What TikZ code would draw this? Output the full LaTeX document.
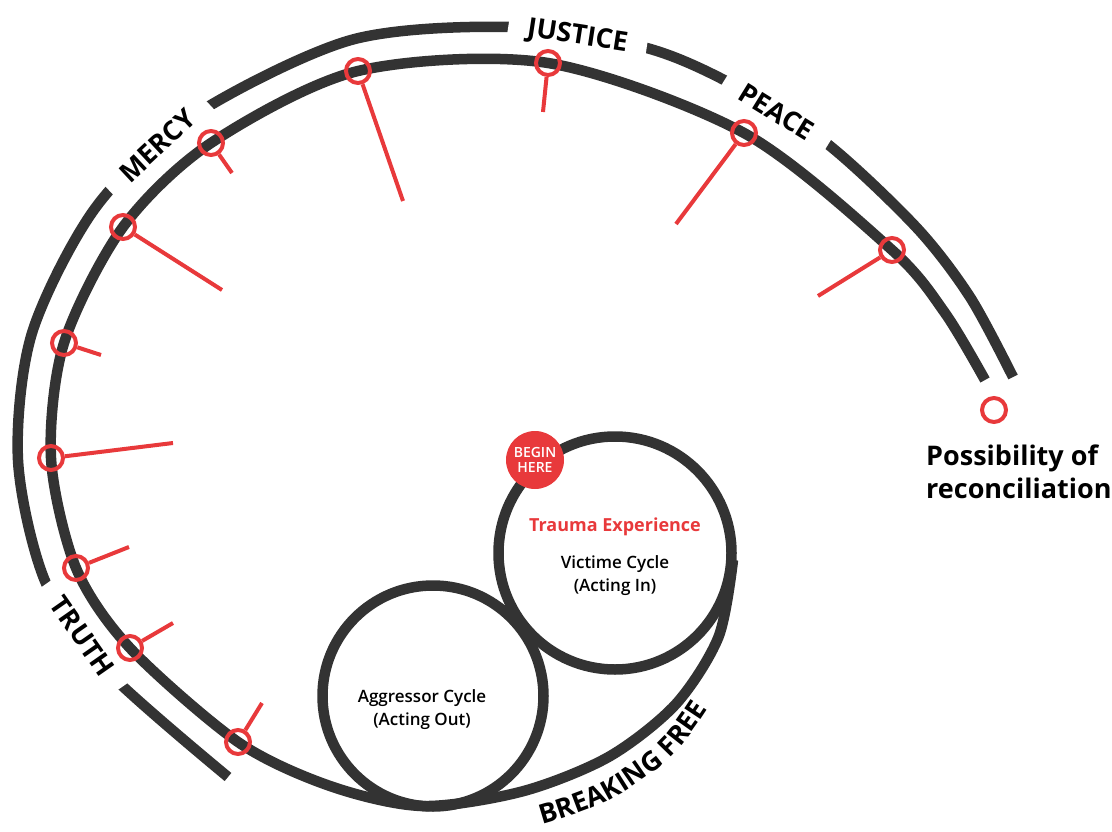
\documentclass[tikz,border=0pt]{standalone}
\usepackage{fontspec}
\setmainfont{Open Sans}
\newfontfamily\semifont{Open Sans Semibold}
\usepackage{xcolor}
\usepackage{tikz}
\usetikzlibrary{decorations.text}
\definecolor{darkline}{HTML}{333333}
\definecolor{ringred}{HTML}{E8393B}
\newcommand\labelfont{\fontsize{27}{27}\selectfont\bfseries}
\newcommand\cyclefont{\semifont\fontsize{17}{23}\selectfont}
\newcommand\traumafont{\fontsize{18}{20}\selectfont\bfseries}
\newcommand\beginfont{\semifont\fontsize{14}{15}\selectfont}
\newcommand\goalfont{\fontsize{27}{33}\selectfont\bfseries}
\tikzset{
    track/.style={draw=darkline, line width=10.5pt},
    loopcircle/.style={circle, draw=darkline, line width=10.5pt, inner sep=0pt},
    arclabel/.style={fill=white, font=\labelfont, minimum width=#1, inner xsep=0pt, inner ysep=6pt},
    redring/.style={circle, draw=ringred, line width=4pt, minimum size=24pt, inner sep=0pt},
    redstem/.style={draw=ringred, line width=4pt}}

\begin{document}
\begin{tikzpicture}[x=1pt, y=-1pt]
\useasboundingbox (0,0) rectangle (1112,832);

% outer track, broken by the four labels
\draw [track] plot[smooth] coordinates {(1013,377) (970,297) (916,227) (825,142) (728,82) (643,47) (512,27) (351,40) (193,116) (96,207) (32,333) (18,460) (45,581) (106,670) (228,777)};
\node[arclabel=122, rotate=-31.7] (peace) at (776.5,112) {PEACE};
\node[arclabel=140, rotate=-8.7] (justice) at (577.5,37) {JUSTICE};
\node[arclabel=132, rotate=43] (mercy) at (157.5,145.5) {MERCY};
\node[arclabel=128, rotate=-55.1] (truth) at (82.5,636.5) {TRUTH};

% inner track, runs into the victim cycle
\draw [track] plot[smooth] coordinates {(985,380) (945,313) (892,250) (744,133) (548,63) (358,71) (211,143) (123,227) (64,343) (51,458) (76,568) (130,648) (238,742) (330,786) (422,806) (522,791.5) (608.5,757) (675.5,704.5) (718.5,637) (733,560)};

\node[loopcircle, minimum size=233pt] (victim) at (615,553) {};
\node[loopcircle, minimum size=221pt] (aggressor) at (433,696) {};
\node[circle, fill=ringred, minimum size=58pt, inner sep=0pt, text=white, font=\beginfont, align=center] (begin) at (535,460) {BEGIN\\HERE};

\node[text=ringred, font=\traumafont] (trauma) at (615,527) {Trauma Experience};
\node[font=\cyclefont, align=center] (victimtxt) at (615,576) {Victime Cycle\\(Acting In)};
\node[font=\cyclefont, align=center] (aggressortxt) at (422,710) {Aggressor Cycle\\(Acting Out)};

% markers along the inner track
\foreach \mx/\my/\tx/\ty [count=\i] in {892/250/818/296, 744/133/676/224, 548/63/543/112, 358/71/403/201, 211/143/232/173, 123/227/222/290, 64/343/101/355, 51/458/173/443, 76/568/129/547, 130/648/173/623, 238/742/262/703}
{
  \node[redring] (mark\i) at (\mx,\my) {};
  \coordinate (tip\i) at (\tx,\ty);
  \draw [redstem] (mark\i) -- (tip\i);
}

\path [decorate, decoration={text along path, text align=center, text={|\labelfont|BREAKING FREE}}] plot[smooth] coordinates {(472,838) (547,823) (615,797) (674,754) (716,696) (740,645)};

\node[redring] (goal) at (994,410) {};
\node[anchor=north west, font=\goalfont, align=left, inner sep=0pt] (goaltxt) at (926,445) {Possibility of\\reconciliation};
\end{tikzpicture}
\end{document}
